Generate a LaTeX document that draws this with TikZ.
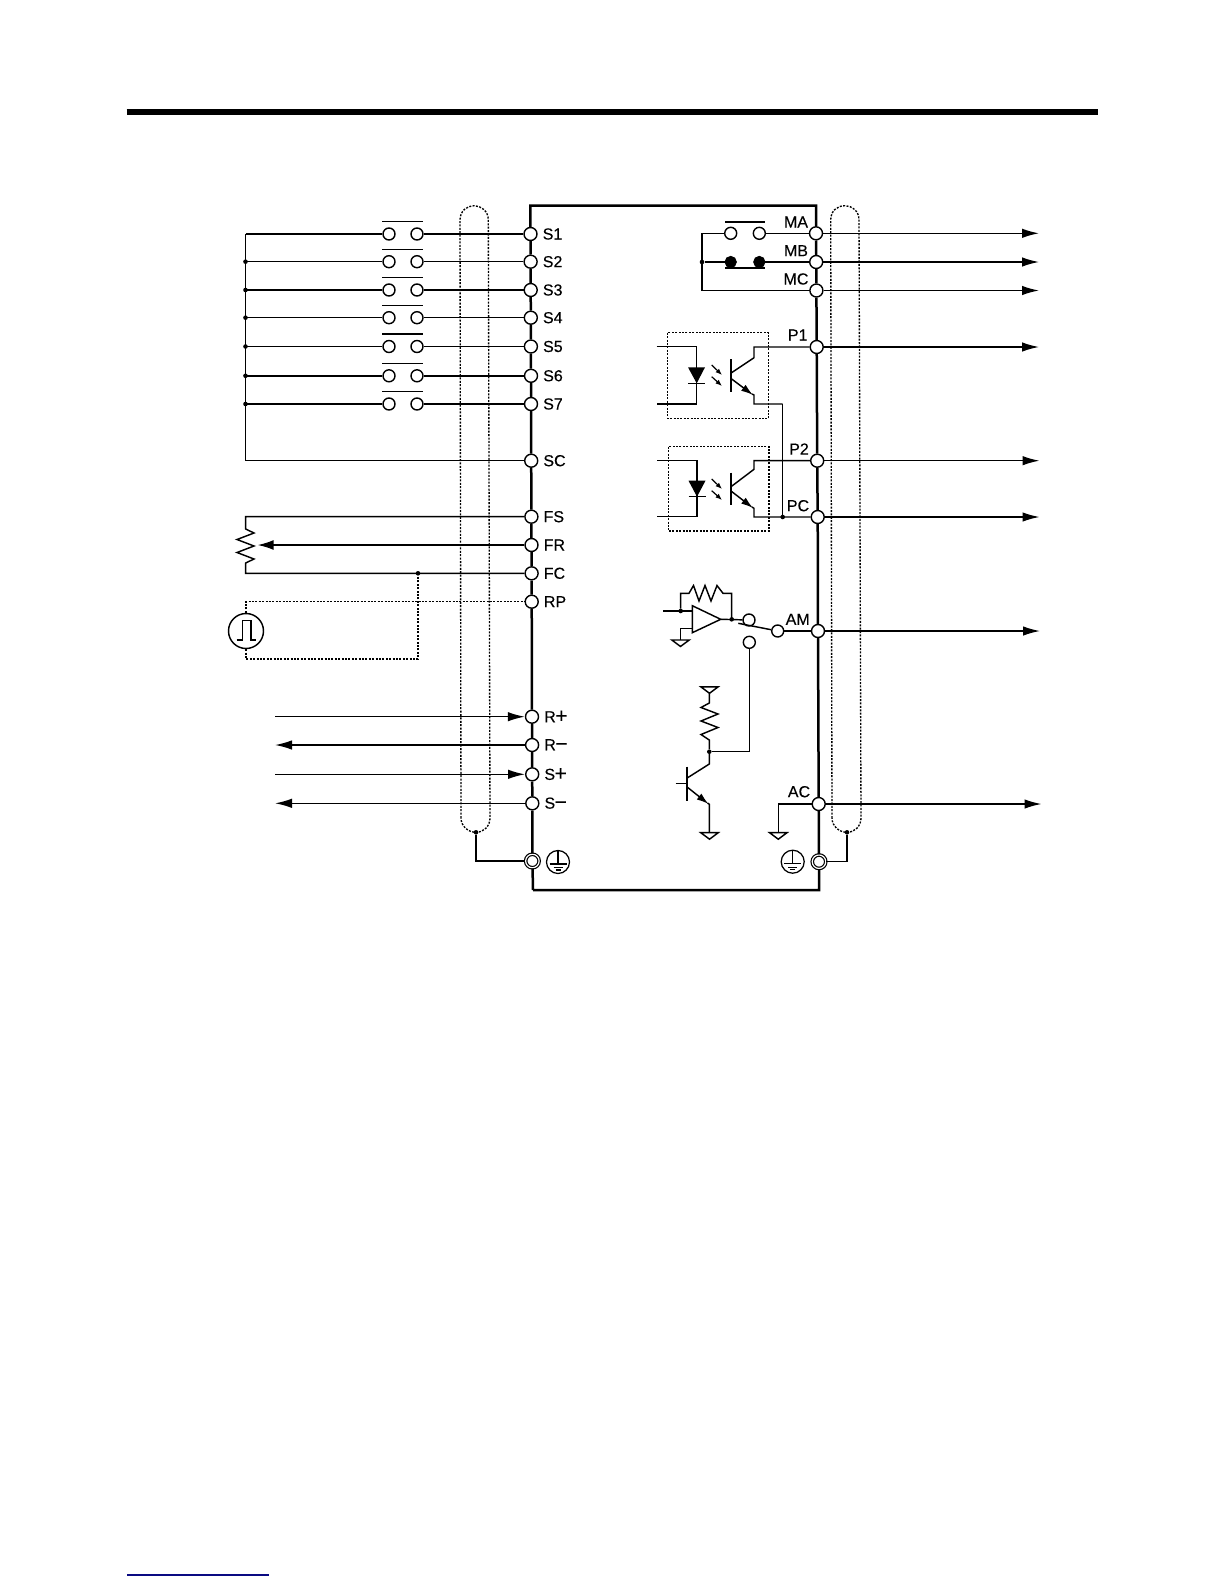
\documentclass[tikz,border=0pt]{standalone}
\usepackage{fontspec}
\setmainfont[FakeBold=0.2]{Liberation Sans}
\usetikzlibrary{arrows.meta}
\tikzset{
  x=1pt,y=-1pt,
  term/.style={circle,draw=black,fill=white,line width=1.4pt,minimum size=13pt,inner sep=0pt},
  gterm/.style={circle,draw=black,fill=white,line width=1.2pt,double=white,double distance=1.2pt,minimum size=13.5pt,inner sep=0pt},
  swc/.style={circle,draw=black,fill=white,line width=1.4pt,minimum size=12pt,inner sep=0pt},
  swf/.style={circle,draw=black,fill=black,line width=1.2pt,minimum size=11pt,inner sep=0pt},
  jdot/.style={circle,fill=black,minimum size=4.6pt,inner sep=0pt},
  lab/.style={font=\fontsize{16}{16}\selectfont,inner sep=0pt},
  wire/.style={line width=1.45pt,line join=miter},
  frame/.style={line width=2.5pt},
  dotline/.style={line width=1.35pt,dash pattern=on 2pt off 1.4pt},
  arr/.style={wire,-{Latex[length=17pt,width=9.5pt]}},
  arrsmall/.style={line width=1.45pt,-{Latex[length=12pt,width=7.5pt]}},
  arrtiny/.style={line width=1.2pt,-{Latex[length=6.5pt,width=5pt]}},
  tri/.style={wire,line join=miter},
  pics/gnd/.style={code={\draw[tri] (-8.7,0) -- (8.7,0) -- (0,6.5) -- cycle;}},
  pics/earth/.style={code={
    \draw[line width=1.25pt] (0,0) circle (11.5);
    \draw[line width=1.1pt] (0,-11.5) -- (0,2) (-8.5,2) -- (8.5,2);
    \draw[line width=1.1pt] (-4.5,5.5) -- (4.5,5.5) (-2.5,8) -- (2.5,8);}},
}
\newcommand{\bigsign}[1]{\fontsize{21}{16}\selectfont\raisebox{-.5pt}{#1}}
\begin{document}
\begin{tikzpicture}
\useasboundingbox (0,0) rectangle (1224,1584);
% page rules
\coordinate (ruleL) at (126.5,112); \coordinate (ruleR) at (1098,112);
\draw[line width=5.5pt] (ruleL) -- (ruleR);
\coordinate (footL) at (127,1575); \coordinate (footR) at (269,1575);
\draw[line width=1.2pt,draw={rgb,255:red,10;green,10;blue,130}] (footL) -- (footR);

% frame corners
\coordinate (tl) at (530.3,205.7); \coordinate (tr) at (816,205.7);
\coordinate (bl) at (533,890); \coordinate (br) at (819,890);

% left terminals
\foreach \n/\x/\y/\t in {S1/530.5/234/S1,S2/530.6/261.7/S2,S3/530.7/290/S3,S4/530.8/317.7/S4,S5/530.9/346.5/S5,S6/531/375.8/S6,S7/531/404/S7,SC/531.2/460.7/SC,FS/531.4/516.7/FS,FR/531.5/545/FR,FC/531.6/573.3/FC,RP/531.7/601.7/RP}{
  \node[term] (\n) at (\x,\y) {};
  \node[lab,anchor=west] (lab\n) at (\x+12,\y) {\t};
}
\foreach \n/\x/\y/\t/\s in {Rp/532/716.7/R/+,Rm/532.1/745/R/−,Sp/532.2/774.3/S/+,Sm/532.3/803.3/S/−}{
  \node[term] (\n) at (\x,\y) {};
  \node[lab,anchor=west] (lab\n) at (\x+12,\y) {\t\kern-.5pt{\bigsign{\s}}};
}
\node[gterm] (GL) at (532.4,861) {};
\pic at (558,862) {earth};

% right terminals
\foreach \n/\x/\y/\lx/\ly in {MA/816/233.3/796/222,MB/816.2/262/796/250.7,MC/816.4/290.5/796/279,P1/816.7/347/797.7/335,P2/817.2/460.7/799/449,PC/817.7/517/798/505.7,AM/818/631/797.7/619.3,AC/818.7/804/799/791.7}{
  \node[term] (\n) at (\x,\y) {};
  \node[lab] (lab\n) at (\lx,\ly) {\n};
}
\node[gterm] (GR) at (819,861.7) {};
\pic at (792.7,861.7) {earth};

% frame
\draw[frame] (bl) -- (GL) -- (Sm) -- (Sp) -- (Rm) -- (Rp) -- (RP) -- (FC) -- (FR) -- (FS) -- (SC) -- (S7) -- (S6) -- (S5) -- (S4) -- (S3) -- (S2) -- (S1) -- (tl) -- (tr) -- (MA) -- (MB) -- (MC) -- (P1) -- (P2) -- (PC) -- (AM) -- (AC) -- (GR) -- (br) -- (bl);

% left switches
\foreach \i/\y/\t in {1/234/S1,2/261.7/S2,3/290/S3,4/317.7/S4,5/346.5/S5,6/375.8/S6,7/404/S7}{
  \node[swc] (a\i) at (389,\y) {};
  \node[swc] (b\i) at (417,\y) {};
  \coordinate (c\i) at (382,\y-12.3);
  \coordinate (d\i) at (423,\y-12.3);
  \draw[wire] (c\i) -- (d\i);
  \draw[wire] (b\i) -- (\t);
  \coordinate (bus\i) at (245.5,\y);
  \draw[wire] (bus\i) -- (a\i);
}
\foreach \i in {2,...,7}{\node[jdot] at (bus\i) {};}
\coordinate (busE) at (245.5,460.7);
\draw[wire] (bus1) -- (busE) -- (SC);

% potentiometer
\coordinate (potT) at (245.7,516.7); \coordinate (potB) at (245.7,573.3);
\coordinate (potTip) at (257.7,545);
\draw[wire] (FS) -- (potT) -- (245.7,529) -- (254,533) -- (237,539.5) -- (254,546) -- (237,552.5) -- (254,559) -- (245.7,563) -- (potB) -- (FC);
\draw[arr,-{Latex[length=16pt,width=10pt]}] (FR) -- (potTip);
% pulse source
\node[jdot] (jFC) at (418,573.3) {};
\node[circle,draw,line width=1.45pt,minimum size=35pt,inner sep=0pt] (pulse) at (246,631) {};
\coordinate (pulUp) at (246,601.7); \coordinate (pulDn) at (246,659); \coordinate (pulR) at (418,659);
\draw[dotline] (pulse) -- (pulUp) -- (RP);
\draw[dotline] (pulse) -- (pulDn) -- (pulR) -- (jFC);
\draw[line width=1.25pt] (236.7,640) -- (242.3,640) -- (242.3,620.7) -- (251,620.7) -- (251,640) -- (255.7,640);

% serial
\coordinate (rp0) at (275,716.7); \coordinate (rm0) at (275,745);
\coordinate (sp0) at (275,774.3); \coordinate (sm0) at (275,803.3);
\draw[arr] (rp0) -- (Rp);
\draw[arr] (Rm) -- (rm0);
\draw[arr] (sp0) -- (Sp);
\draw[arr] (Sm) -- (sm0);

% right outputs
\foreach \n/\y/\e in {MA/233.3/1039,MB/262/1039,MC/290.5/1039,P1/347/1039,P2/460.7/1039.5,PC/517/1039.5,AM/631/1040,AC/804/1041.5}{
  \coordinate (o\n) at (\e,\y);
  \draw[arr] (\n) -- (o\n);
}

% shields
\draw[dotline] (461,818) -- (460,220) .. controls (460,211) and (467,205.7) .. (474,205.7) .. controls (481,205.7) and (488.3,211) .. (488.3,220) -- (490,818) .. controls (490,826) and (484,832.3) .. (476,832.3) .. controls (468,832.3) and (461,826) .. (461,818);
\draw[dotline] (832,818) -- (830.7,220) .. controls (830.7,211) and (837,205.7) .. (845,205.7) .. controls (852,205.7) and (859,211) .. (859,220) -- (861,818) .. controls (861,826) and (855,832.3) .. (847,832.3) .. controls (839,832.3) and (832,826) .. (832,818);
\node[jdot] (shL) at (476,832.3) {};
\node[jdot] (shR) at (847,832.3) {};
\coordinate (shLd) at (476,861); \coordinate (shRd) at (847,861.7);
\draw[wire] (shL) -- (shLd) -- (GL);
\draw[wire] (shR) -- (shRd) -- (GR);

% relay
\node[swc] (ma1) at (730.7,233.3) {};
\node[swc] (ma2) at (759.3,233.3) {};
\node[swf] (mb1) at (730.7,262) {};
\node[swf] (mb2) at (759.3,262) {};
\coordinate (mabarL) at (725,222); \coordinate (mabarR) at (765,222);
\coordinate (mbbarL) at (725,268); \coordinate (mbbarR) at (765,268);
\draw[wire] (mabarL) -- (mabarR);
\draw[line width=1.7pt] (mbbarL) -- (mbbarR);
\draw[wire] (ma2) -- (MA);
\draw[wire] (mb2) -- (MB);
\coordinate (rb1) at (702,233.3); \coordinate (rb3) at (702,290.5);
\node[jdot] (rb2) at (702,262) {};
\draw[wire] (ma1) -- (rb1) -- (rb3) -- (MC);
\draw[wire] (rb2) -- (mb1);

% opto 1
\draw[dotline] (667.7,332.7) rectangle (768.3,418.7);
\draw[wire] (656.7,346.7) -- (696.7,346.7) -- (696.7,404) -- (656.7,404);
\fill (688,367.3) -- (705,367.3) -- (696.7,383.3) -- cycle;
\draw[wire] (688,383.3) -- (705,383.3);
\draw[arrtiny] (711.7,365) -- (722,375);
\draw[arrtiny] (711.7,376.7) -- (722,386);
\draw[line width=1.6pt] (730.7,359) -- (730.7,392.3);
\draw[wire] (730.7,373.3) -- (754,357.7) -- (754,347) -- (P1);
\draw[arrsmall] (730.7,378.3) -- (753,395);
\draw[wire] (752,394) -- (754,395) -- (754,404) -- (782.7,404);
\node[jdot] (jPC) at (782.7,517) {};
\coordinate (em1) at (782.7,404);
\draw[wire] (em1) -- (jPC);

% opto 2
\draw[dotline] (668.3,446.7) rectangle (769,531);
\draw[wire] (657,460.7) -- (697,460.7) -- (697,516.7) -- (657,516.7);
\fill (688.5,480.7) -- (705.5,480.7) -- (697,496.7) -- cycle;
\draw[wire] (688.5,496.7) -- (705.5,496.7);
\draw[arrtiny] (711.7,479) -- (722,489);
\draw[arrtiny] (711.7,490.7) -- (722,500);
\draw[line width=1.6pt] (731,472.7) -- (731,505);
\draw[wire] (731,486.7) -- (754,469.3) -- (754,460.7) -- (P2);
\draw[arrsmall] (731,491) -- (753,508);
\draw[wire] (752,507) -- (754,508.3) -- (754,517) -- (PC);

% op amp
\draw[wire] (692.3,605.7) -- (692.3,632.7) -- (720.7,619.3) -- cycle;
\node[jdot] (jIn) at (680.7,611) {};
\node[jdot] (jOut) at (731.7,619.3) {};
\coordinate (inL) at (663.3,611);
\draw[wire] (inL) -- (692.3,611);
\draw[wire] (jIn) -- (680.7,593.3) -- (689,593.3) -- (693.5,585.5) -- (699,601) -- (705,585.5) -- (711,601) -- (717,585.5) -- (723,593.3) -- (731.7,593.3) -- (jOut);
\node[swc] (amU) at (749,620) {};
\node[swc] (amS) at (777.7,631) {};
\node[swc] (amD) at (749.3,642.3) {};
\draw[wire] (720.7,619.3) -- (amU);
\coordinate (armS) at (738.3,623.3);
\draw[wire] (armS) -- (amS);
\draw[wire] (amS) -- (AM);
\draw[wire] (692.3,628.3) -- (680.7,628.3) -- (680.7,640);
\pic at (680.5,640) {gnd};

% transistor stage
\node[jdot] (jC) at (709.3,751.7) {};
\coordinate (amDb) at (749.3,751.7);
\draw[wire] (amD) -- (amDb) -- (jC);
\draw[wire] (jC) -- (709.3,740) -- (701,734.5) -- (718,727.5) -- (701,721) -- (718,714) -- (701,707.5) -- (709.3,703) -- (709.3,693.3);
\pic at (709.5,686.8) {gnd};
\draw[wire] (jC) -- (709.3,764) -- (686.7,778.3);
\draw[line width=1.6pt] (686.7,766.7) -- (686.7,800.7);
\draw[wire] (675.7,783.3) -- (686.7,783.3);
\draw[arrsmall] (686.7,786.7) -- (708.5,804);
\draw[wire] (707.5,803) -- (709.3,804.3) -- (709.3,832.7);
\pic at (709.5,832.7) {gnd};

% AC ground
\coordinate (acC) at (778.3,804); \coordinate (acG) at (778.3,832.7);
\draw[wire] (AC) -- (acC) -- (acG);
\pic at (778.3,832.7) {gnd};
\end{tikzpicture}
\end{document}
